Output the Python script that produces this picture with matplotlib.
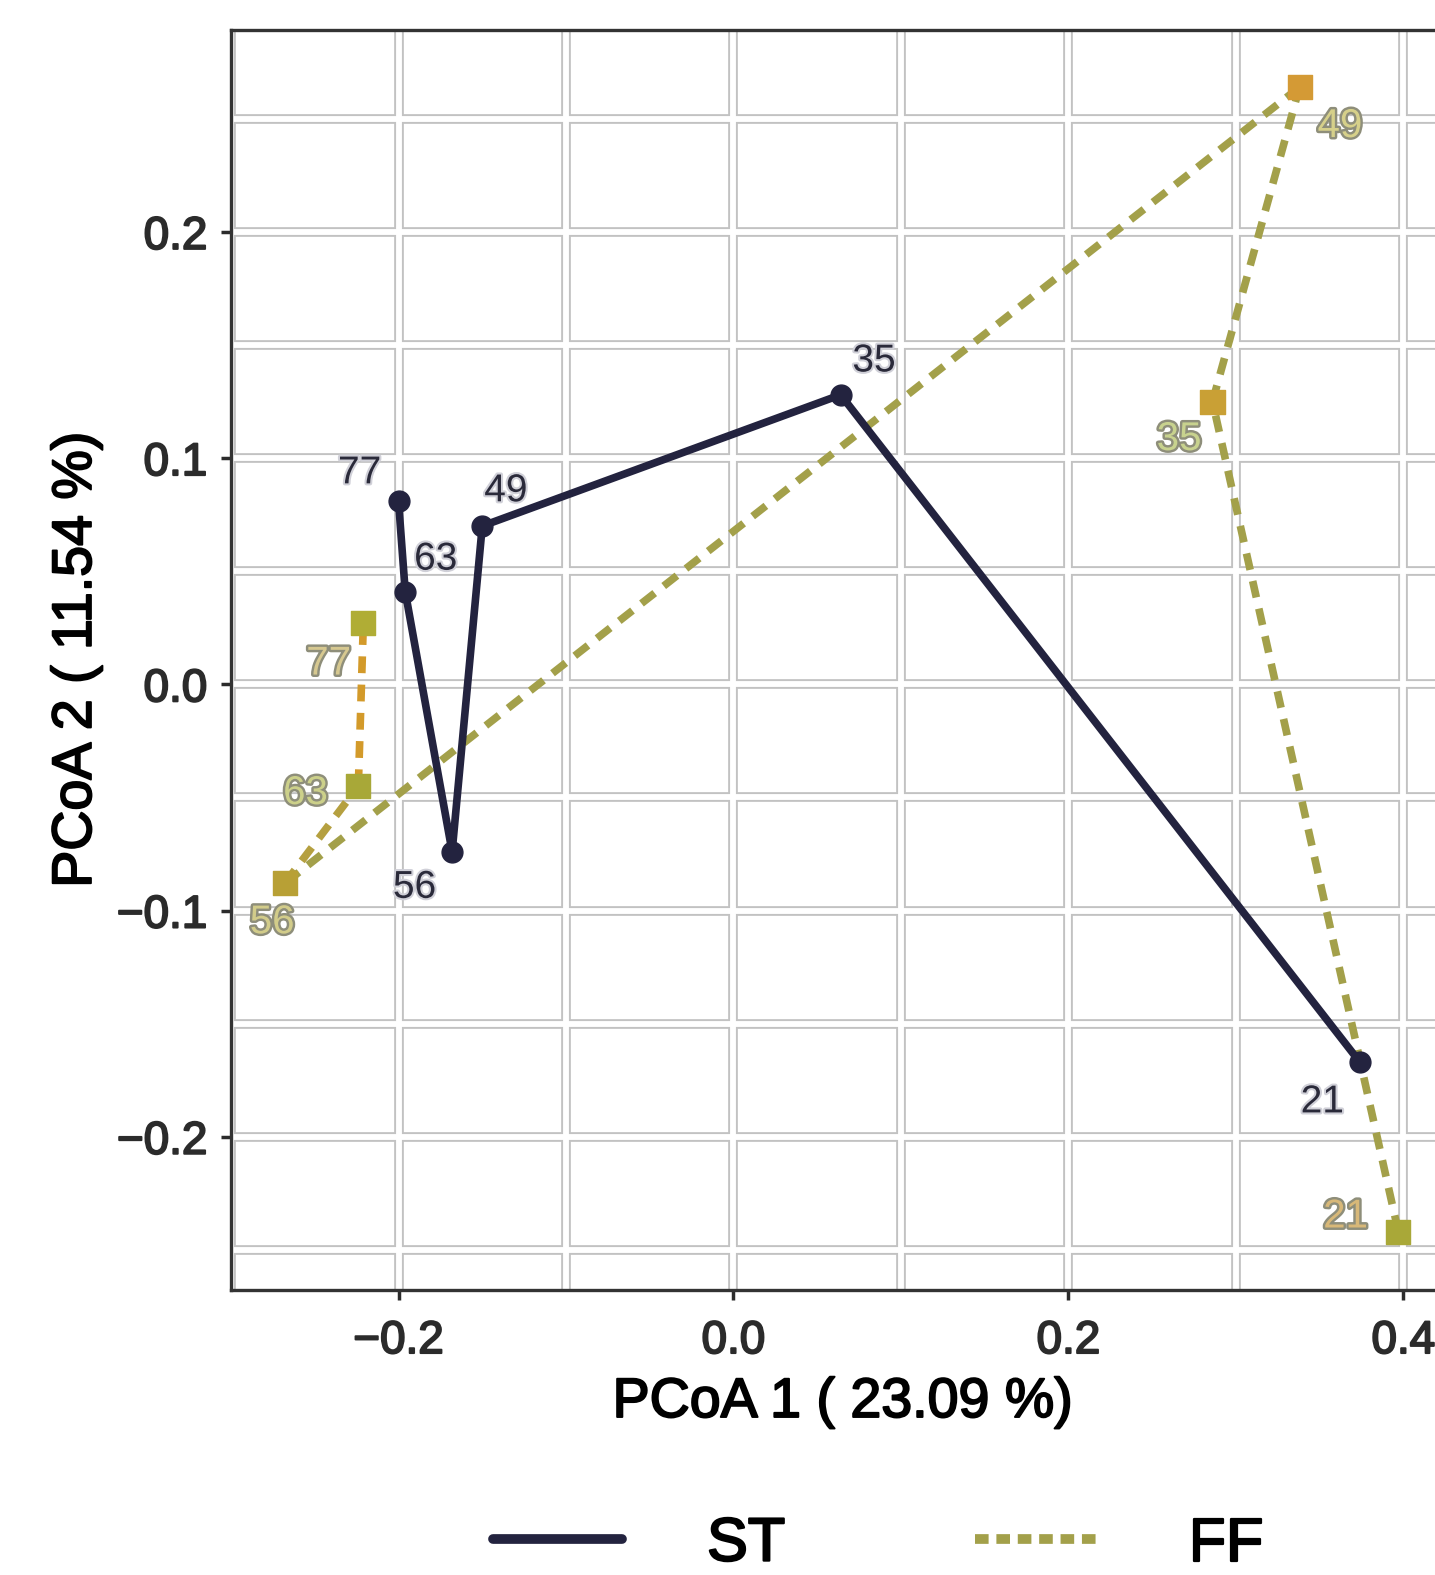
import numpy as np
import matplotlib
matplotlib.use("Agg")
import matplotlib.pyplot as plt
import matplotlib.patheffects as pe
from matplotlib.lines import Line2D

plt.rcParams['font.family'] = ['Liberation Sans', 'DejaVu Sans']

# sampling days, in path order
days = [21, 35, 49, 56, 63, 77]

# ST group
st_x = [0.374, 0.064, -0.150, -0.168, -0.196, -0.200]
st_y = [-0.167, 0.128, 0.070, -0.074, 0.041, 0.081]

# FF group
ff_x = [0.397, 0.286, 0.338, -0.268, -0.224, -0.221]
ff_y = [-0.242, 0.125, 0.264, -0.088, -0.045, 0.027]

groups = ['ST', 'FF']
xlab = 'PCoA 1 ( 23.09 %)'
ylab = 'PCoA 2 ( 11.54 %)'

st_col = '#23233f'
ff_line = '#a3a04a'
ff_seg_cols = ['#a3a04a', '#a3a04a', '#a3a04a', '#b5a040', '#d39a2a']
ff_pt_cols = ['#a9a838', '#c9a035', '#d49a35', '#b8a035', '#a8a838', '#b0ad35']
ff_txt_cols = ['#d8b878', '#c8d28e', '#d6d08a', '#d2cc8a', '#ccd08a', '#d6c890']

# label offsets (points) - roughly what ggrepel did
st_off = [(-27, -29), (24, 24), (17, 25), (-27, -26), (22, 23), (-28, 20)]
ff_off = [(-38, 11), (-24, -27), (29, -28), (-9, -28), (-38, -5), (-25, -29)]

fig = plt.figure(figsize=(14.35, 15.75), dpi=100)
ax = fig.add_axes([0.161, 0.181, 0.852, 0.800])
ax.set_xlim(-0.300, 0.430)
ax.set_ylim(-0.2677, 0.2893)

# ggplot-ish grid (white lines with grey rims)
for v in np.arange(-0.3, 0.45, 0.1):
    ax.axvline(v, color='#c2c2c2', lw=7, zorder=0.5)
    ax.axvline(v, color='white', lw=4.2, zorder=0.6)
for h in np.arange(-0.25, 0.30, 0.05):
    ax.axhline(h, color='#c2c2c2', lw=7, zorder=0.5)
    ax.axhline(h, color='white', lw=4.2, zorder=0.6)

# ST path
ax.plot(st_x, st_y, color=st_col, lw=5.5, solid_capstyle='round',
        solid_joinstyle='round', zorder=3)
ax.plot(st_x, st_y, 'o', color=st_col, ms=15, zorder=4)

# FF path, dashed
for i in range(len(ff_x) - 1):
    ax.plot(ff_x[i:i + 2], ff_y[i:i + 2], color=ff_seg_cols[i], lw=5.5,
            dashes=(2.2, 1.5), zorder=2)
ax.scatter(ff_x, ff_y, marker='s', s=300, c=ff_pt_cols, zorder=2.5)

halo = [pe.withStroke(linewidth=3, foreground='#d0d0d8')]
for d, x, y, o in zip(days, st_x, st_y, st_off):
    ax.annotate(str(d), (x, y), xytext=o, textcoords='offset points',
                ha='center', va='center', fontsize=28, color='#2a2a3a',
                path_effects=halo, zorder=5)
for d, x, y, o, c in zip(days, ff_x, ff_y, ff_off, ff_txt_cols):
    ax.annotate(str(d), (x, y), xytext=o, textcoords='offset points',
                ha='center', va='center', fontsize=29, color=c,
                path_effects=[pe.withStroke(linewidth=3.5, foreground='#8e8e7a')],
                zorder=5)

ax.set_xticks([-0.2, 0.0, 0.2, 0.4])
ax.set_yticks([-0.2, -0.1, 0.0, 0.1, 0.2])
ax.set_xticklabels(['\u22120.2', '0.0', '0.2', '0.4'])
ax.set_yticklabels(['\u22120.2', '\u22120.1', '0.0', '0.1', '0.2'])
ax.tick_params(labelsize=33, colors='#2b2b2b', length=7, width=2.5, pad=10)
ax.tick_params(axis='x', pad=14)
thick = [pe.withStroke(linewidth=1.4, foreground='#2b2b2b')]
for t in ax.get_xticklabels() + ax.get_yticklabels():
    t.set_path_effects(thick)
for s in ax.spines.values():
    s.set_color('#333333')
    s.set_linewidth(2.4)

ax.set_xlabel(xlab, fontsize=40, labelpad=10,
              path_effects=[pe.withStroke(linewidth=1.4, foreground='black')])
ax.set_ylabel(ylab, fontsize=40, labelpad=10,
              path_effects=[pe.withStroke(linewidth=1.4, foreground='black')])

handles = [Line2D([], [], color=st_col, lw=7, solid_capstyle='round'),
           Line2D([], [], color=ff_line, lw=7, dashes=(1.4, 0.8))]
leg = fig.legend(handles, groups, loc='center', bbox_to_anchor=(0.612, 0.019),
                 ncol=2, frameon=False, fontsize=44, handlelength=2.1,
                 handletextpad=1.4, columnspacing=3.1)
for t in leg.get_texts():
    t.set_path_effects([pe.withStroke(linewidth=1.6, foreground='black')])

fig.savefig('out.png', dpi=100)
